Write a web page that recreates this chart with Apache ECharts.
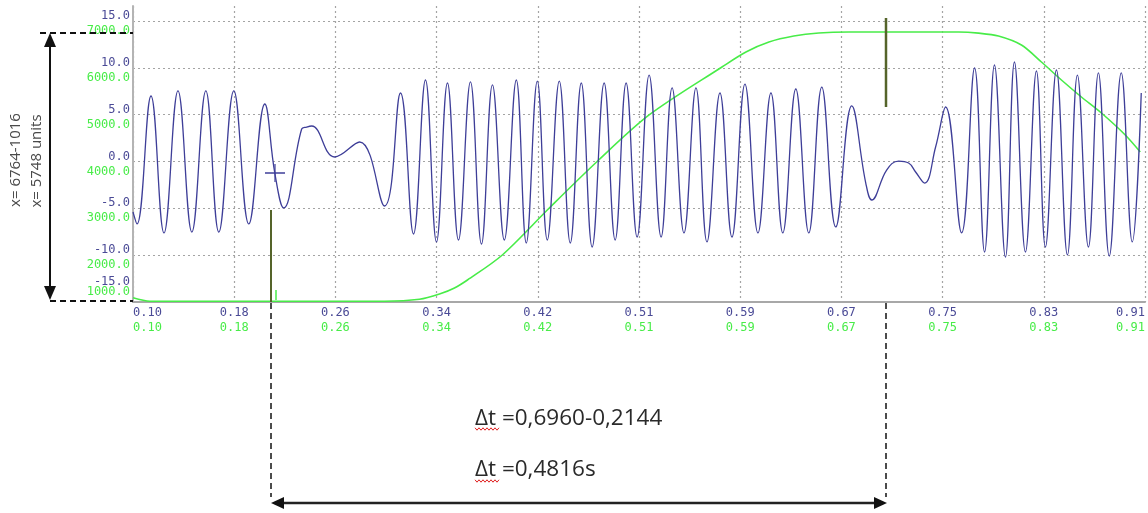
<!DOCTYPE html>
<html>
<head>
<meta charset="utf-8">
<script src="https://cdn.jsdelivr.net/npm/echarts@6/dist/echarts.min.js"></script>
<style>html,body{margin:0;padding:0;background:#fff;}#c{width:1148px;height:513px;}</style>
</head>
<body>
<div id="c"></div>
<script>
// ---- data ----
const xTickLabels = ['0.10','0.18','0.26','0.34','0.42','0.51','0.59','0.67','0.75','0.83','0.91'];
const T_START = 0.10;
const T_STEP = 0.081;

// blue trace (left scale), time in s
const blueT = [0.1000,0.1032,0.1144,0.1248,0.1360,0.1471,0.1583,0.1687,0.1807,0.1927,0.2055,0.2135,0.2206,0.2350,0.2390,0.2430,0.2614,0.2814,0.3013,
  0.3141,0.3245,0.3341,0.3429,0.3517,0.3605,0.3701,0.3789,0.3877,0.3972,0.4068,0.4148,0.4236,0.4316,0.4412,0.4500,0.4588,0.4675,0.4771,0.4859,
  0.4947,0.5035,0.5131,0.5227,0.5315,0.5410,0.5506,0.5594,0.5698,0.5794,0.5898,0.6002,0.6106,0.6201,0.6305,0.6409,0.6513,0.6625,0.6753,0.6865,
  0.6913,0.7032,0.7128,0.7208,0.7264,0.7336,0.7424,0.7504,0.7632,0.7736,0.7816,0.7895,0.7983,0.8055,0.8143,0.8231,0.8303,0.8391,0.8479,0.8559,
  0.8647,0.8727,0.8814,0.8910,0.8998,0.9070];
const blueV = [-5.39,-6.67,6.99,-7.63,7.53,-7.53,7.53,-7.53,7.53,-6.67,6.14,-1.23,-4.96,3.47,3.68,3.79,0.48,2.08,-4.75,
  7.31,-7.74,8.70,-8.59,8.38,-8.38,8.49,-8.81,8.17,-8.38,8.70,-8.70,8.59,-8.38,8.59,-8.70,8.38,-9.13,8.38,-8.38,
  8.38,-8.06,9.23,-8.06,7.85,-7.63,7.85,-8.59,7.31,-8.06,8.27,-7.63,7.31,-7.63,7.74,-7.63,7.95,-6.99,5.93,-2.30,
  -4.11,-0.91,0.05,-0.16,-1.12,-2.30,1.55,5.82,-7.63,9.98,-9.66,10.30,-10.20,10.62,-9.66,9.66,-9.13,9.77,-9.98,9.23,
  -9.13,9.45,-10.09,9.45,-8.59,7.31];

// green trace (second left scale)
const greenT = [0.1000,0.1136,0.3013,0.3293,0.3453,0.3573,0.3677,0.3956,0.4332,0.4715,0.5131,0.5714,0.5906,0.6090,0.6289,0.6489,0.6729,
  0.7608,0.7768,0.7927,0.8111,0.8271,0.8431,0.8591,0.8751,0.8942,0.9062];
const greenV = [1090,1016,1016,1058,1170,1300,1470,2004,3007,4000,4993,6018,6338,6551,6679,6743,6764,
  6764,6740,6679,6487,6124,5740,5377,5035,4566,4203];

// left scales
const blueTicks = {min: -15, max: 16.6, interval: 5};
const greenTicks = {min: 1000, max: 7320, interval: 1000};

// annotation texts
const noteTexts = ['Δt =0,6960-0,2144', 'Δt =0,4816s'];
const sideTexts = ['x= 6764-1016', 'x= 5748 units'];

// ---- chart ----
const BLUE = '#3e3e98';
const BLUE_LAB = '#4a4a96';
const GREEN = '#48ec48';
const GRID = '#a4a4a4';
const chart = echarts.init(document.getElementById('c'), null, {renderer: 'canvas'});

const zip = (a, b) => a.map((t, i) => [t, b[i]]);

const option = {
  backgroundColor: '#ffffff',
  animation: false,
  grid: {left: 133, right: 1, top: 6, bottom: 211, containLabel: false},
  xAxis: [{
    type: 'value', min: 0, max: xTickLabels.length - 1, interval: 1, position: 'bottom',
    axisLine: {show: true, onZero: false, lineStyle: {color: '#a8a8a8', width: 2}},
    axisTick: {show: false},
    splitLine: {show: true, lineStyle: {color: GRID, type: [2, 3], width: 1.2}},
    axisLabel: {
      margin: 3, alignMinLabel: 'left', alignMaxLabel: 'right',
      formatter: (v) => { const l = xTickLabels[Math.round(v)]; return '{b|' + l + '}\n{g|' + l + '}'; },
      rich: {
        b: {color: BLUE_LAB, fontFamily: 'DejaVu Sans Mono', fontSize: 12, lineHeight: 15},
        g: {color: GREEN, fontFamily: 'DejaVu Sans Mono', fontSize: 12, lineHeight: 15}
      }
    }
  }, {
    type: 'value', show: false, min: T_START, max: T_START + T_STEP * (xTickLabels.length - 1),
    axisLine: {onZero: false}
  }],
  yAxis: [{
    type: 'value', position: 'left', min: blueTicks.min, max: blueTicks.max, interval: blueTicks.interval,
    axisLine: {show: true, onZero: false, lineStyle: {color: '#b4b4b4', width: 2}},
    axisTick: {show: false},
    splitLine: {show: true, showMaxLine: false, lineStyle: {color: GRID, type: [2, 3], width: 1.2}},
    axisLabel: {
      margin: 3, showMaxLabel: false, color: BLUE_LAB, fontFamily: 'DejaVu Sans Mono', fontSize: 12,
      lineHeight: 10, verticalAlign: 'middle',
      formatter: (v) => v === blueTicks.min ? v.toFixed(1) + '\n \n \n \n ' : v.toFixed(1) + '\n '
    }
  }, {
    type: 'value', position: 'left', min: greenTicks.min, max: greenTicks.max, interval: greenTicks.interval,
    axisLine: {show: false, onZero: false}, axisTick: {show: false}, splitLine: {show: false},
    axisLabel: {
      margin: 3, showMaxLabel: false, color: GREEN, fontFamily: 'DejaVu Sans Mono', fontSize: 12,
      lineHeight: 20, verticalAlign: 'middle',
      formatter: (v) => v === greenTicks.min ? v.toFixed(1) + '\n ' : ' \n' + v.toFixed(1)
    }
  }],
  series: [{
    type: 'line', name: 'green', xAxisIndex: 1, yAxisIndex: 1, data: zip(greenT, greenV),
    showSymbol: false, smooth: 0.3, lineStyle: {color: GREEN, width: 1.6}, z: 2
  }, {
    type: 'line', name: 'blue', xAxisIndex: 1, yAxisIndex: 0, data: zip(blueT, blueV),
    showSymbol: false, smooth: 0.42, lineStyle: {color: BLUE, width: 1.3}, z: 3
  }]
};
chart.setOption(option);

// ---- annotations (overlay drawing) ----
function arrowHead(x, y, dir, len, half) {
  let pts;
  if (dir === 'up') pts = [[x, y], [x - half, y + len], [x + half, y + len]];
  if (dir === 'down') pts = [[x, y], [x - half, y - len], [x + half, y - len]];
  if (dir === 'left') pts = [[x, y], [x + len, y - half], [x + len, y + half]];
  if (dir === 'right') pts = [[x, y], [x - len, y - half], [x - len, y + half]];
  return {type: 'polygon', shape: {points: pts}, style: {fill: '#111'}, z: 100};
}
function seg(x1, y1, x2, y2, style) {
  return {type: 'line', shape: {x1, y1, x2, y2}, style: Object.assign({stroke: '#111', lineWidth: 1}, style), z: 100};
}
function squiggle(x0, x1, y) {
  const pts = [];
  let up = true;
  for (let x = x0; x <= x1; x += 2) { pts.push([x, up ? y - 1.2 : y + 1.2]); up = !up; }
  return {type: 'polyline', shape: {points: pts}, style: {stroke: '#e02020', lineWidth: 1, fill: null}, z: 100};
}

const g = [
  seg(40, 33, 133, 33, {lineWidth: 2, lineDash: [6, 4]}),
  seg(50, 301, 133, 301, {lineWidth: 2, lineDash: [6, 4]}),
  seg(50, 44, 50, 289, {lineWidth: 2}),
  arrowHead(50, 33, 'up', 14, 6),
  arrowHead(50, 300, 'down', 14, 6),
  seg(271, 210, 271, 302, {stroke: '#55642a', lineWidth: 2}),
  seg(886, 18, 886, 107, {stroke: '#55642a', lineWidth: 2.5}),
  seg(271, 303, 271, 497, {lineWidth: 1.5, lineDash: [6, 4]}),
  seg(886, 303, 886, 497, {lineWidth: 1.5, lineDash: [6, 4]}),
  seg(265, 173, 285, 173, {stroke: BLUE, lineWidth: 1.5}),
  seg(275, 164, 275, 182, {stroke: BLUE, lineWidth: 1.2}),
  seg(276, 290, 276, 300, {stroke: GREEN, lineWidth: 1.5}),
  seg(282, 503, 875, 503, {lineWidth: 2.5, stroke: '#222'}),
  arrowHead(271, 503, 'left', 13, 6),
  arrowHead(887, 503, 'right', 13, 6),
  {type: 'text', x: 475, y: 419, z: 100, style: {text: noteTexts[0], fill: '#2a2a2a', font: '22.5px "Open Sans"', textAlign: 'left', textVerticalAlign: 'middle'}},
  {type: 'text', x: 475, y: 470, z: 100, style: {text: noteTexts[1], fill: '#2a2a2a', font: '22.5px "Open Sans"', textAlign: 'left', textVerticalAlign: 'middle'}},
  squiggle(475, 500, 429),
  squiggle(475, 500, 481),
  {type: 'text', x: 16, y: 160, rotation: Math.PI / 2, z: 100, style: {text: sideTexts[0], fill: '#4a4a4a', font: '15px "Open Sans"', textAlign: 'center', textVerticalAlign: 'middle'}},
  {type: 'text', x: 37, y: 161, rotation: Math.PI / 2, z: 100, style: {text: sideTexts[1], fill: '#4a4a4a', font: '15px "Open Sans"', textAlign: 'center', textVerticalAlign: 'middle'}}
];
chart.setOption({graphic: g});
</script>
</body>
</html>
